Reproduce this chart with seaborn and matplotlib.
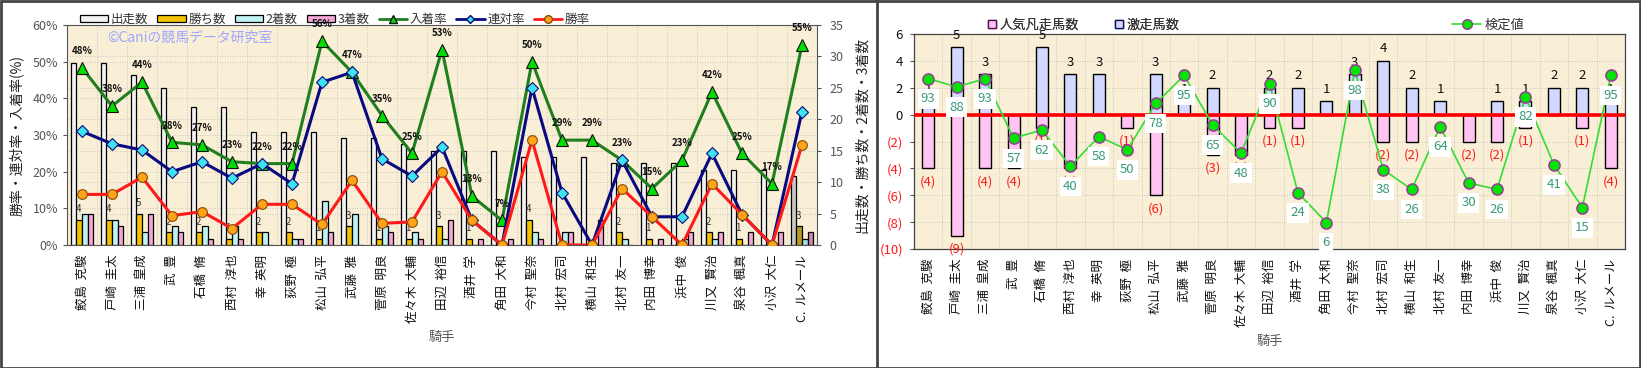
import numpy as np
import pandas as pd
import matplotlib
matplotlib.use("Agg")
import matplotlib.pyplot as plt
import seaborn as sns
from matplotlib.lines import Line2D
from matplotlib.patches import Patch, Rectangle

# ---------------- data ----------------
jockeys = ["鮫島 克駿", "戸崎 圭太", "三浦 皇成", "武 豊", "石橋 脩", "西村 淳也", "幸 英明",
           "荻野 極", "松山 弘平", "武藤 雅", "菅原 明良", "佐々木 大輔", "田辺 裕信", "酒井 学",
           "角田 大和", "今村 聖奈", "北村 宏司", "横山 和生", "北村 友一", "内田 博幸", "浜中 俊",
           "川又 賢治", "泉谷 楓真", "小沢 大仁", "C. ルメール"]
runs = [29, 29, 27, 25, 22, 22, 18, 18, 18, 17, 17, 16, 15, 15, 15, 14, 14, 14, 13, 13, 13, 12, 12, 12, 11]
wins = [4, 4, 5, 2, 2, 1, 2, 2, 1, 3, 1, 1, 3, 1, 0, 4, 0, 0, 2, 1, 0, 2, 1, 0, 3]
seconds = [5, 4, 2, 3, 3, 3, 2, 1, 7, 5, 3, 2, 1, 0, 0, 2, 2, 0, 1, 0, 1, 1, 0, 0, 1]
thirds = [5, 3, 5, 2, 1, 1, 0, 1, 2, 0, 2, 1, 4, 1, 1, 1, 2, 4, 0, 1, 2, 2, 2, 2, 2]
win_rate = [13.8, 13.8, 18.5, 8.0, 9.1, 4.5, 11.1, 11.1, 5.6, 17.6, 5.9, 6.3, 20.0, 6.7, 0.0,
            28.6, 0.0, 0.0, 15.4, 7.7, 0.0, 16.7, 8.3, 0.0, 27.3]
rentai_rate = [31.0, 27.6, 25.9, 20.0, 22.7, 18.2, 22.2, 16.7, 44.4, 47.1, 23.5, 18.8, 26.7, 6.7, 0.0,
               42.9, 14.3, 0.0, 23.1, 7.7, 7.7, 25.0, 8.3, 0.0, 36.4]
place_rate = [48.3, 37.9, 44.4, 28.0, 27.3, 22.7, 22.2, 22.2, 55.6, 47.1, 35.3, 25.0, 53.3, 13.3, 6.7,
              50.0, 28.6, 28.6, 23.1, 15.4, 23.1, 41.7, 25.0, 16.7, 54.5]
place_labels = [48, 38, 44, 28, 27, 23, 22, 22, 56, 47, 35, 25, 53, 13, 7, 50, 29, 29, 23, 15, 23, 42, 25, 17, 55]

ninki_bonsou = [-4, -9, -4, -4, -1, -4, 0, -1, -6, 0, -3, -3, -1, -1, 0, 0, -2, -2, 0, -2, -2, -1, 0, -1, -4]
gekisou = [1, 5, 3, 0, 5, 3, 3, 0, 3, 1, 2, 0, 2, 2, 1, 3, 4, 2, 1, 0, 1, 1, 2, 2, 1]
kentei = [93, 88, 93, 57, 62, 40, 58, 50, 78, 95, 65, 48, 90, 24, 6, 98, 38, 26, 64, 30, 26, 82, 41, 15, 95]

left_types = ["出走数", "勝ち数", "2着数", "3着数"]
right_types = ["人気凡走馬数", "激走馬数"]

# ---------------- style ----------------
sns.set_style("white")
plt.rcParams["font.family"] = ["Noto Sans CJK JP", "DejaVu Sans"]
plt.rcParams["axes.unicode_minus"] = False

BG = "#f9eed6"
C_RUN, C_WIN, C_2, C_3 = "#f2f2f2", "#f2c200", "#bff2f2", "#f4a6d6"
C_PINK, C_BLUE = "#ffc4f2", "#d2d8ff"

n = len(jockeys)
xpos = np.arange(n)
tick_names = [j.replace(" ", "  ") for j in jockeys]

fig = plt.figure(figsize=(16.41, 3.68), dpi=100)

# ================= LEFT CHART =================
axL = fig.add_axes([67 / 1641, 1 - 245 / 368, 750 / 1641, 220 / 368])
axL2 = axL.twinx()
axL.set_facecolor(BG)
dfc = pd.DataFrame({
    "騎手": jockeys * 4,
    "type": sum([[t] * n for t in left_types], []),
    "count": runs + wins + seconds + thirds,
})
sns.barplot(data=dfc, x="騎手", y="count", hue="type", hue_order=left_types,
            palette=[C_RUN, C_WIN, C_2, C_3], width=0.74, dodge=True, gap=0,
            saturation=1, edgecolor="black", linewidth=0.9, legend=False, ax=axL, zorder=2)
# highlighted (shaded) last group
dark = ["#c9c9c9", "#b89a22", "#a9dede", "#c68aae"]
for k, cont in enumerate(axL.containers):
    cont.patches[-1].set_facecolor(dark[k])

axL.set_ylim(0, 35)
axL.set_xlim(-0.5, n - 0.5)
axL.set_yticks(range(0, 36, 5))
axL.yaxis.tick_right()
axL.yaxis.set_label_position("right")
axL.tick_params(axis="y", labelsize=9, labelcolor="#555", length=3, color="#555", pad=6,
                left=False, labelleft=False, right=True, labelright=True)
axL.set_ylabel("出走数・勝ち数・2着数・3着数", fontsize=10, color="#222", labelpad=8)
axL.set_xticks(xpos)
axL.set_xticklabels(tick_names, rotation=90, fontsize=9, color="#111")
axL.tick_params(axis="x", length=0, pad=7)
axL.set_xlabel("騎手", fontsize=9.5, color="#555", labelpad=6)
for v in range(5, 35, 5):
    axL.axhline(v, color="#bbbbbb", lw=0.6, ls=(0, (1, 2)), zorder=0.5)
for p in range(10, 60, 10):
    axL.axhline(p * 35 / 60, color="#bbbbbb", lw=0.6, ls=(0, (1, 2)), zorder=0.5)
for b in np.arange(0.5, n - 0.5, 1):
    axL.axvline(b, color="#bbbbbb", lw=0.6, ls=(0, (1, 2)), zorder=0.5)
for s in axL.spines.values():
    s.set_color("#555")
    s.set_linewidth(0.8)

# win count labels
bw = 0.74 / 4
for i, w in enumerate(wins):
    if w > 0:
        axL.annotate(str(w), (i - 0.37 + bw * 1.5 - 0.04, w), xytext=(0, 4), textcoords="offset points",
                     ha="center", va="bottom", fontsize=7, color="#333", zorder=3)

axL2.set_ylim(0, 60)
axL2.set_yticks(range(0, 61, 10))
axL2.set_yticklabels([f"{v}%" for v in range(0, 61, 10)])
axL2.yaxis.tick_left()
axL2.yaxis.set_label_position("left")
axL2.tick_params(axis="y", labelsize=9, labelcolor="#555", length=3, color="#555",
                 left=True, labelleft=True, right=False, labelright=False)
axL2.set_ylabel("勝率・連対率・入着率(%)", fontsize=10, color="#222", labelpad=6)
for s in axL2.spines.values():
    s.set_visible(False)

sns.lineplot(x=xpos, y=place_rate, ax=axL2, color="#1f7f1f", lw=2.2, marker="^", ms=8.5,
             mfc="#00dd00", mec="#111", mew=0.8, zorder=3)
sns.lineplot(x=xpos, y=rentai_rate, ax=axL2, color="#0a0a80", lw=2.2, marker="D", ms=6,
             mfc="#3fe3f0", mec="#0a0a80", mew=0.8, zorder=4)
sns.lineplot(x=xpos, y=win_rate, ax=axL2, color="#ff1a1a", lw=2.2, marker="o", ms=7,
             mfc="#ffa31a", mec="#8a4a00", mew=0.8, zorder=5)
for i, lab in enumerate(place_labels):
    axL2.annotate(f"{lab}%", (i, place_rate[i]), xytext=(0, 8.5), textcoords="offset points",
                  ha="center", va="bottom", fontsize=7, fontweight="bold", color="#111", zorder=6)
axL2.text(0.053, 0.94, "©Caniの競馬データ研究室", transform=axL2.transAxes, color="#9ea6ff",
          fontsize=10, va="center", ha="left", zorder=6)

hL = [Patch(facecolor=C_RUN, edgecolor="black", lw=0.9),
      Patch(facecolor=C_WIN, edgecolor="black", lw=0.9),
      Patch(facecolor=C_2, edgecolor="black", lw=0.9),
      Patch(facecolor=C_3, edgecolor="black", lw=0.9),
      Line2D([], [], color="#1f7f1f", lw=2, marker="^", ms=6, mfc="#00dd00", mec="#111"),
      Line2D([], [], color="#0a0a80", lw=2, marker="D", ms=4.5, mfc="#3fe3f0", mec="#0a0a80"),
      Line2D([], [], color="#ff1a1a", lw=2, marker="o", ms=5.5, mfc="#ffa31a", mec="#8a4a00")]
axL2.legend(hL, left_types + ["入着率", "連対率", "勝率"], loc="lower left",
            bbox_to_anchor=(0.015, 0.99), ncol=7, frameon=False, fontsize=9,
            handlelength=2.3, handleheight=0.55, columnspacing=0.7, handletextpad=0.2,
            borderaxespad=0, borderpad=0.1, labelcolor="#333")

# ================= RIGHT CHART =================
axR = fig.add_axes([914 / 1641, 1 - 249 / 368, 711 / 1641, 215 / 368])
axR2 = axR.twinx()
axR.set_facecolor(BG)
dfr = pd.DataFrame({
    "騎手": jockeys * 2,
    "type": sum([[t] * n for t in right_types], []),
    "val": ninki_bonsou + gekisou,
})
sns.barplot(data=dfr, x="騎手", y="val", hue="type", hue_order=right_types,
            palette=[C_PINK, C_BLUE], width=0.42, dodge=False, saturation=1,
            edgecolor="black", linewidth=1.0, legend=False, ax=axR, zorder=2)
axR.set_ylim(-10, 6)
axR.set_xlim(-0.5, n - 0.5)
yt = list(range(-10, 7, 2))
axR.set_yticks(yt)
axR.set_yticklabels([str(v) if v >= 0 else f"({-v})" for v in yt])
for t, v in zip(axR.get_yticklabels(), yt):
    t.set_color("#111" if v >= 0 else "#ff1a1a")
axR.tick_params(axis="y", labelsize=9.5, length=3, color="#555", pad=5)
axR.set_xticks(xpos)
axR.set_xticklabels(tick_names, rotation=90, fontsize=9, color="#111")
axR.tick_params(axis="x", length=0, pad=7)
axR.set_xlabel("騎手", fontsize=9.5, color="#555", labelpad=6)
axR.set_ylabel("")
for v in yt[1:-1]:
    axR.axhline(v, color="#bbbbbb", lw=0.6, ls=(0, (1, 2)), zorder=0.5)
for b in np.arange(0.5, n - 0.5, 1):
    axR.axvline(b, color="#bbbbbb", lw=0.6, ls=(0, (1, 2)), zorder=0.5)
axR.axhline(0, color="#ff0000", lw=2.6, zorder=3)
for s in axR.spines.values():
    s.set_color("#444")
    s.set_linewidth(0.9)

for i, g in enumerate(gekisou):
    if g > 0:
        axR.annotate(str(g), (i, g), xytext=(0, 4), textcoords="offset points",
                     ha="center", va="bottom", fontsize=9.5, color="#111", zorder=4)
for i, p in enumerate(ninki_bonsou):
    if p < 0:
        axR.annotate(f"({-p})", (i, p), xytext=(0, -5), textcoords="offset points",
                     ha="center", va="top", fontsize=9.5, color="#ff1a1a", zorder=4)

axR2.set_ylim(-10, 120)
axR2.set_yticks([])
for s in axR2.spines.values():
    s.set_visible(False)
sns.lineplot(x=xpos, y=kentei, ax=axR2, color="#33dd33", lw=1.2, marker="o", ms=8,
             mfc="#00e600", mec="#9a3a9a", mew=1.1, zorder=3)
for i, k in enumerate(kentei):
    axR2.annotate(str(k), (i, k), xytext=(0, -14.5), textcoords="offset points",
                  ha="center", va="center", fontsize=9.5, color="#3a9a78", zorder=5,
                  bbox=dict(boxstyle="square,pad=0.25", fc="white", ec="none"))

hR = [Line2D([], [], ls="none", marker="s", ms=5.5, mfc=C_PINK, mec="#551155", mew=1),
      Line2D([], [], ls="none", marker="s", ms=5.5, mfc=C_BLUE, mec="#111155", mew=1)]
leg1 = axR.legend(hR, right_types, loc="lower left", bbox_to_anchor=(0.1, 1.005), ncol=2,
                  frameon=False, fontsize=9.5, handlelength=0.8, handletextpad=0.2,
                  columnspacing=2.6, borderaxespad=0, borderpad=0.1, labelcolor="#333")
axR.add_artist(leg1)
hR2 = [Line2D([], [], color="#33dd33", lw=1.2, marker="o", ms=7, mfc="#00e600", mec="#9a3a9a")]
axR2.legend(hR2, ["検定値"], loc="lower left", bbox_to_anchor=(0.755, 1.005), frameon=False,
            fontsize=9.5, handlelength=2.2, handletextpad=0.3, borderaxespad=0, borderpad=0.1,
            labelcolor="#333")

# ---------------- frames ----------------
fig.patches.append(Rectangle((0.0006, 0.001), 0.9988, 0.997, transform=fig.transFigure,
                             fill=False, edgecolor="#444", lw=2))
fig.lines.append(Line2D([877 / 1641] * 2, [0, 1], transform=fig.transFigure, color="#444", lw=2))

fig.savefig("out.png", dpi=100)
